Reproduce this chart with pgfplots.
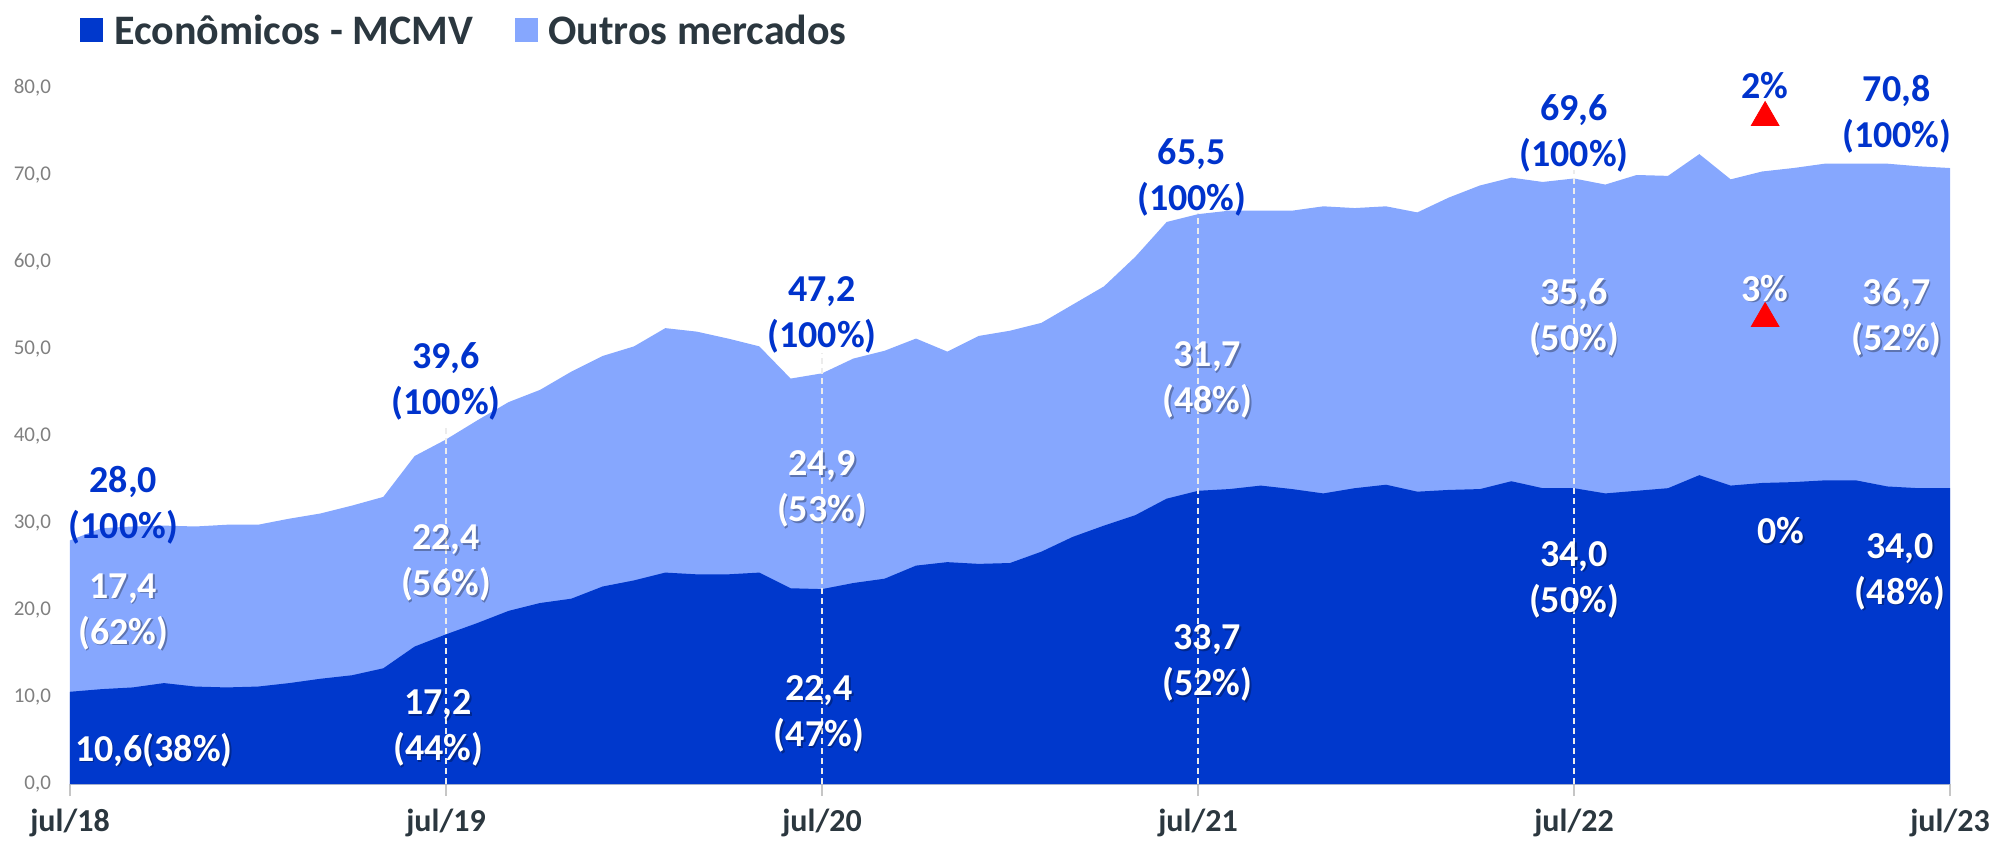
\documentclass[border=0pt]{standalone}
\usepackage{fontspec}
\setmainfont{Carlito}
\usepackage{pgfplots}
\usepackage{pgfplotstable}
\pgfplotsset{compat=1.18}
\usetikzlibrary{calc}
\definecolor{dark}{HTML}{0038CC}
\definecolor{light}{HTML}{86A7FE}
\definecolor{lblue}{HTML}{0033CC}
\definecolor{txt}{HTML}{2B373F}

\pgfplotstableread{
m total mcmv
0 28.0 10.6
1 29.4 10.9
2 29.6 11.1
3 29.7 11.6
4 29.6 11.2
5 29.8 11.1
6 29.8 11.2
7 30.5 11.6
8 31.1 12.1
9 32.0 12.5
10 33.0 13.3
11 37.7 15.8
12 39.6 17.2
13 41.8 18.5
14 43.9 19.9
15 45.3 20.8
16 47.4 21.3
17 49.2 22.7
18 50.3 23.4
19 52.4 24.3
20 52.0 24.1
21 51.2 24.1
22 50.3 24.3
23 46.6 22.5
24 47.2 22.4
25 48.9 23.1
26 49.8 23.6
27 51.2 25.1
28 49.7 25.5
29 51.5 25.3
30 52.1 25.4
31 53.0 26.7
32 55.1 28.4
33 57.2 29.7
34 60.6 30.9
35 64.6 32.8
36 65.5 33.7
37 65.9 33.9
38 65.9 34.3
39 65.9 33.9
40 66.4 33.4
41 66.2 34.0
42 66.4 34.4
43 65.7 33.6
44 67.4 33.8
45 68.8 33.9
46 69.7 34.8
47 69.2 34.0
48 69.6 34.0
49 68.9 33.4
50 70.0 33.7
51 69.9 34.0
52 72.4 35.5
53 69.5 34.3
54 70.4 34.6
55 70.8 34.7
56 71.3 34.9
57 71.3 34.9
58 71.3 34.2
59 71.0 34.0
60 70.8 34.0
}\data

\newcommand{\wlab}[4][center]{%
  \node[sh, anchor=#1] at ($(axis cs:#2,#3)+(0.8pt,-0.8pt)$) {#4};
  \node[wl, anchor=#1] at (axis cs:#2,#3) {#4};}

\begin{document}
\begin{tikzpicture}[
  bl/.style={font=\fontsize{19}{23}\selectfont\bfseries, text=lblue, align=center, inner sep=0pt},
  wl/.style={font=\fontsize{19}{23}\selectfont\bfseries, text=white, align=center, inner sep=0pt},
  sh/.style={font=\fontsize{19}{23}\selectfont\bfseries, text=black, opacity=0.3, align=center, inner sep=0pt},
]
\begin{axis}[
  scale only axis, width=940pt, height=348pt,
  xmin=0, xmax=60, ymin=0, ymax=80,
  clip=false,
  axis x line*=bottom, axis y line*=left,
  y axis line style={draw=none},
  x axis line style={draw=gray!45, line width=1pt},
  xtick={0,12,24,36,48,60},
  xticklabels={jul/18,jul/19,jul/20,jul/21,jul/22,jul/23},
  xticklabel style={font=\fontsize{16}{19}\selectfont\bfseries, text=txt, yshift=-3pt},
  xtick style={draw=gray!45, line width=0.8pt},
  tick align=outside, major tick length=6pt,
  ytick={0,10,...,80},
  ytick style={draw=none},
  yticklabel style={font=\fontsize{10.5}{12}\selectfont, text=gray,
    /pgf/number format/fixed, /pgf/number format/fixed zerofill,
    /pgf/number format/precision=1, /pgf/number format/use comma,
    /pgf/number format/assume math mode=true},
]
\addplot[draw=none, fill=light] table[x=m,y=total]{\data} \closedcycle;
\addplot[draw=none, fill=dark] table[x=m,y=mcmv]{\data} \closedcycle;

\addplot[white!85!gray, dash pattern=on 3pt off 2pt, line width=0.6pt] coordinates {(12,0) (12,41.3)};
\addplot[white!85!gray, dash pattern=on 3pt off 2pt, line width=0.6pt] coordinates {(24,0) (24,49.5)};
\addplot[white!85!gray, dash pattern=on 3pt off 2pt, line width=0.6pt] coordinates {(36,0) (36,65.6)};
\addplot[white!85!gray, dash pattern=on 3pt off 2pt, line width=0.6pt] coordinates {(48,0) (48,70.6)};

\addplot[only marks, mark=triangle*, mark size=8pt, mark options={fill=red, draw=red}] coordinates {(54.1,76.6) (54.1,53.5)};

% totals
\node[bl] at (axis cs:1.7,32.0) {28,0\\(100\%)};
\node[bl] at (axis cs:12.0,46.3) {39,6\\(100\%)};
\node[bl] at (axis cs:24.0,53.9) {47,2\\(100\%)};
\node[bl] at (axis cs:35.8,69.7) {65,5\\(100\%)};
\node[bl] at (axis cs:48.0,74.8) {69,6\\(100\%)};
\node[bl] at (axis cs:58.3,77.0) {70,8\\(100\%)};
\node[bl] at (axis cs:54.1,80.3) {2\%};

% outros
\wlab{1.7}{19.8}{17,4\\(62\%)}
\wlab{12.0}{25.4}{22,4\\(56\%)}
\wlab{24.0}{33.9}{24,9\\(53\%)}
\wlab{36.3}{46.4}{31,7\\(48\%)}
\wlab{48.0}{53.6}{35,6\\(50\%)}
\wlab{58.3}{53.6}{36,7\\(52\%)}
\wlab{54.1}{57.0}{3\%}

% mcmv
\wlab[west]{0.15}{3.9}{10,6(38\%)}
\wlab{11.75}{6.4}{17,2\\(44\%)}
\wlab{23.9}{8.0}{22,4\\(47\%)}
\wlab{36.3}{13.9}{33,7\\(52\%)}
\wlab{48.0}{23.5}{34,0\\(50\%)}
\wlab{58.4}{24.4}{34,0\\(48\%)}
\wlab{54.6}{29.1}{0\%}
\end{axis}

\fill[dark] ($(current axis.north west)+(5pt,23pt)$) rectangle ($(current axis.north west)+(16.5pt,35pt)$);
\node[anchor=base west, inner sep=0pt, font=\fontsize{21}{25}\selectfont\bfseries, text=txt]
  at ($(current axis.north west)+(22pt,21.75pt)$) {Econômicos - MCMV};
\fill[light] ($(current axis.north west)+(222.5pt,23pt)$) rectangle ($(current axis.north west)+(234pt,35pt)$);
\node[anchor=base west, inner sep=0pt, font=\fontsize{21}{25}\selectfont\bfseries, text=txt]
  at ($(current axis.north west)+(239pt,21.75pt)$) {Outros mercados};

\pgfresetboundingbox
\path ($(current axis.south west)+(-35pt,-29pt)$) rectangle ($(current axis.north east)+(21pt,44pt)$);
\end{tikzpicture}
\end{document}
